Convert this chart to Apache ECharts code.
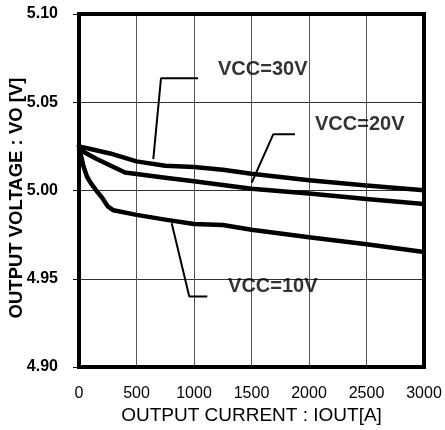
<!DOCTYPE html>
<html><head><meta charset="utf-8">
<script src="https://cdn.jsdelivr.net/npm/echarts@6/dist/echarts.min.js"></script>
<style>html,body{margin:0;padding:0;background:#fff}#c{width:445px;height:430px}</style>
</head><body><div id="c"></div>
<script>
// Data
var xTicks = [0, 500, 1000, 1500, 2000, 2500, 3000];
var yTicks = [4.90, 4.95, 5.00, 5.05, 5.10];

var cur30 = [0, 100, 270, 500, 750, 1000, 1250, 1500, 2000, 2500, 3000];
var vcc30 = [5.025, 5.0235, 5.021, 5.0165, 5.014, 5.0133, 5.0118, 5.0095, 5.0058, 5.0028, 5.0002];

var cur20 = [0, 50, 150, 400, 500, 750, 1000, 1500, 2000, 2500, 3000];
var vcc20 = [5.025, 5.0215, 5.018, 5.0102, 5.0093, 5.0072, 5.0052, 5.001, 4.9983, 4.9952, 4.9923];

var cur10 = [0, 20, 40, 70, 100, 150, 200, 250, 300, 500, 750, 1000, 1250, 1500, 2000, 2500, 3000];
var vcc10 = [5.025, 5.019, 5.0135, 5.0078, 5.0045, 5.000, 4.996, 4.991, 4.9888, 4.9862, 4.9835, 4.981, 4.9805, 4.9778, 4.9735, 4.9695, 4.9652];

// annotation labels and leader lines (data coordinates)
var labelNames = ['VCC=30V', 'VCC=20V', 'VCC=10V'];
var labelX = [1209, 2052, 1296];
var labelY = [5.0683, 5.0372, 4.9456];
var lead30X = [646, 713, 1035], lead30Y = [5.0178, 5.0636, 5.0636];
var lead20X = [1502, 1690, 1878], lead20Y = [5.0045, 5.0319, 5.0319];
var lead10X = [806, 959, 1116], lead10Y = [4.9815, 4.940, 4.940];

function zip(xs, ys) { return xs.map(function (x, i) { return [x, ys[i]]; }); }

var chart = echarts.init(document.getElementById('c'), null, {renderer: 'canvas'});
var curveStyle = {color: '#000', width: 4.5, join: 'round', cap: 'round'};
var leadStyle = {color: '#000', width: 2};
function curve(name, xs, ys) {
  return {type: 'line', name: name, data: zip(xs, ys), showSymbol: false, symbol: 'none',
    lineStyle: curveStyle, z: 3, animation: false};
}
function lead(xs, ys) {
  return {type: 'line', data: zip(xs, ys), showSymbol: false, symbol: 'none',
    lineStyle: leadStyle, z: 2, animation: false};
}
chart.setOption({
  animation: false,
  grid: {left: 79, right: 21, top: 14, bottom: 63, show: true, borderColor: '#000', borderWidth: 4, z: 5,
    containLabel: false, outerBoundsMode: 'none'},
  xAxis: {
    type: 'value', min: 0, max: 3000, interval: 500,
    name: 'OUTPUT CURRENT : IOUT[A]', nameLocation: 'middle', nameGap: 39, nameMoveOverlap: false,
    nameTextStyle: {fontFamily: 'Liberation Sans, Arial', fontSize: 19, color: '#000'},
    axisLine: {show: false},
    axisTick: {show: false},
    axisLabel: {fontFamily: 'Liberation Sans, Arial', fontSize: 16, color: '#000', margin: 19,
      formatter: function (v) { return xTicks.indexOf(v) >= 0 ? String(v) : ''; }},
    splitLine: {show: true, lineStyle: {color: '#555', width: 1}}
  },
  yAxis: {
    type: 'value', min: 4.90, max: 5.10, interval: 0.05,
    name: 'OUTPUT VOLTAGE : VO [V]', nameLocation: 'middle', nameGap: 53, nameMoveOverlap: false,
    nameTextStyle: {fontFamily: 'Liberation Sans, Arial', fontSize: 18.5, fontWeight: 'bold', color: '#000',
      padding: [0, 15, 0, 0]},
    axisLine: {show: false},
    axisTick: {show: true, length: 6, lineStyle: {color: '#000', width: 1}},
    axisLabel: {fontFamily: 'Liberation Sans, Arial', fontSize: 16, fontWeight: 'bold', color: '#000', margin: 21,
      formatter: function (v) { return v.toFixed(2); }},
    splitLine: {show: true, lineStyle: {color: '#333', width: 1}}
  },
  series: [
    curve('VCC=30V', cur30, vcc30),
    curve('VCC=20V', cur20, vcc20),
    curve('VCC=10V', cur10, vcc10),
    lead(lead30X, lead30Y),
    lead(lead20X, lead20Y),
    lead(lead10X, lead10Y),
    {type: 'scatter', symbolSize: 0, z: 4, animation: false,
      data: labelNames.map(function (n, i) { return [labelX[i], labelY[i], n]; }),
      label: {show: true, position: 'right', distance: 0, color: '#000',
        fontFamily: 'Liberation Sans, Arial', fontSize: 20, fontWeight: 'bold',
        formatter: function (p) { return p.data[2]; }}}
  ]
});
</script></body></html>
